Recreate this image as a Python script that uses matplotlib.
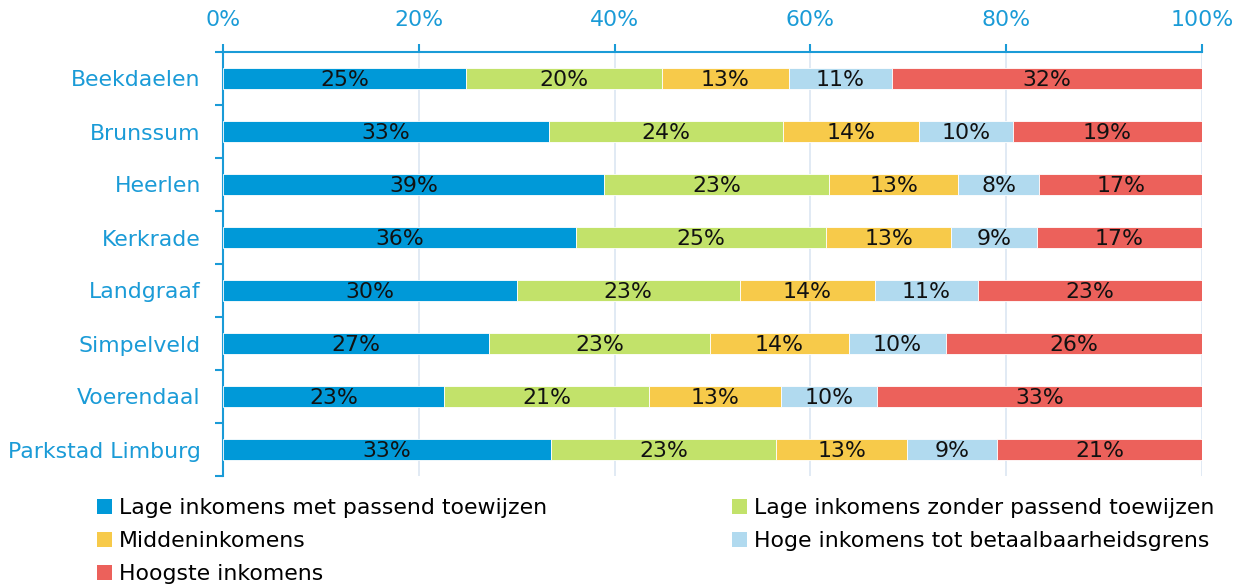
import matplotlib
matplotlib.use("Agg")
import matplotlib.pyplot as plt
import numpy as np
from matplotlib.patches import Patch

regions = ["Beekdaelen", "Brunssum", "Heerlen", "Kerkrade", "Landgraaf",
           "Simpelveld", "Voerendaal", "Parkstad Limburg"]
series_names = ["Lage inkomens met passend toewijzen",
                "Lage inkomens zonder passend toewijzen",
                "Middeninkomens",
                "Hoge inkomens tot betaalbaarheidsgrens",
                "Hoogste inkomens"]
lage_met = [24.8, 33.3, 38.9, 36.1, 30.0, 27.2, 22.6, 33.5]
lage_zonder = [20.0, 23.9, 23.0, 25.5, 22.8, 22.5, 20.9, 23.0]
midden = [13.0, 13.9, 13.2, 12.8, 13.8, 14.2, 13.5, 13.4]
hoge = [10.5, 9.6, 8.3, 8.7, 10.5, 10.0, 9.8, 9.2]
hoogste = [31.7, 19.3, 16.6, 16.9, 22.9, 26.1, 33.2, 20.9]
labels = [
    ["25%", "33%", "39%", "36%", "30%", "27%", "23%", "33%"],
    ["20%", "24%", "23%", "25%", "23%", "23%", "21%", "23%"],
    ["13%", "14%", "13%", "13%", "14%", "14%", "13%", "13%"],
    ["11%", "10%", "8%", "9%", "11%", "10%", "10%", "9%"],
    ["32%", "19%", "17%", "17%", "23%", "26%", "33%", "21%"],
]
xticklabels = ["0%", "20%", "40%", "60%", "80%", "100%"]

colors = ["#0099D8", "#C2E26A", "#F7CA4A", "#B1DAEF", "#EC615B"]
axis_blue = "#1A9BD7"
FS = 15.8

plt.rcParams['font.family'] = ['DejaVu Sans']

fig = plt.figure(figsize=(12.43, 5.84), dpi=100)
ax = fig.add_axes([223/1243, 1-476/584, (1202-223)/1243, (476-52)/584])

data = [lage_met, lage_zonder, midden, hoge, hoogste]
y = np.arange(len(regions))
left = np.zeros(len(regions))
for i, vals in enumerate(data):
    vals = np.array(vals)
    bars = ax.barh(y, vals, left=left, height=0.4, color=colors[i],
                   edgecolor="white", linewidth=0.6, zorder=3)
    for j, b in enumerate(bars):
        ax.text(left[j] + vals[j] / 2, y[j] + 0.02, labels[i][j], ha="center",
                va="center", fontsize=FS, color="#111111", zorder=4)
    left += vals

ax.set_xlim(0, 100)
ax.set_ylim(len(regions) - 0.5, -0.5)
ax.xaxis.tick_top()
ax.set_xticks([0, 20, 40, 60, 80, 100])
ax.set_xticklabels(xticklabels, fontsize=FS, color=axis_blue)
ax.tick_params(axis="x", colors=axis_blue, direction="out", length=6,
               width=1.5, pad=10, labelcolor=axis_blue)
ax.set_yticks(y)
ax.set_yticklabels(regions, fontsize=FS, color=axis_blue)
ax.tick_params(axis="y", which="major", length=0, pad=16, labelcolor=axis_blue)
ax.set_yticks(np.arange(-0.5, len(regions) + 0.5, 1), minor=True)
ax.tick_params(axis="y", which="minor", length=6, width=1.5, color=axis_blue,
               direction="out")
ax.grid(axis="x", color="#DCE6F2", linewidth=1.2, zorder=0)
ax.set_axisbelow(True)
for s in ["right", "bottom"]:
    ax.spines[s].set_visible(False)
for s in ["top", "left"]:
    ax.spines[s].set_color(axis_blue)
    ax.spines[s].set_linewidth(1.5)

h = [Patch(facecolor=c) for c in colors]
common = dict(loc="upper left", frameon=False, fontsize=FS, handlelength=0.7,
              handleheight=0.7, handletextpad=0.3, labelspacing=0.6,
              borderaxespad=0, borderpad=0)
fig.legend([h[0], h[2], h[4]], [series_names[0], series_names[2], series_names[4]],
           bbox_to_anchor=(97/1243, 1-498/584), **common)
fig.legend([h[1], h[3]], [series_names[1], series_names[3]],
           bbox_to_anchor=(732/1243, 1-498/584), **common)

fig.savefig("out.png", dpi=100)
